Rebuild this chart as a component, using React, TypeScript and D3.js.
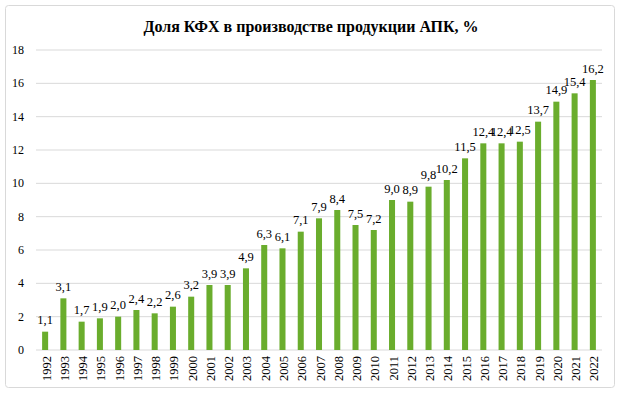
import React from "react";
import * as d3 from "d3";

const years = ["1992","1993","1994","1995","1996","1997","1998","1999","2000","2001","2002","2003","2004","2005","2006","2007","2008","2009","2010","2011","2012","2013","2014","2015","2016","2017","2018","2019","2020","2021","2022"];
const values = [1.1,3.1,1.7,1.9,2.0,2.4,2.2,2.6,3.2,3.9,3.9,4.9,6.3,6.1,7.1,7.9,8.4,7.5,7.2,9.0,8.9,9.8,10.2,11.5,12.4,12.4,12.5,13.7,14.9,15.4,16.2];
const yTicks = [0,2,4,6,8,10,12,14,16,18];
const title = "Доля КФХ в производстве продукции АПК, %";

export default function App() {
  const W = 620, H = 394;
  const left = 36, right = 602, top = 50, bottom = 350;
  const x = d3.scaleBand().domain(years).range([left, right]).paddingInner(0.67).paddingOuter(0.335);
  const y = d3.scaleLinear().domain([0, 18]).range([bottom, top]);
  const fmt = (v: number) => v.toFixed(1).replace(".", ",");
  const st = { fontFamily: "Liberation Serif, Times New Roman, serif" };
  return (
    <svg width={W} height={H} style={{ position: "absolute", left: 0, top: 0, background: "#fff" }}>
      <rect x={5.5} y={5.5} width={609} height={382} fill="#fff" stroke="#d9d9d9" strokeWidth={1} rx={3} />
      <text x={311} y={32} textAnchor="middle" fontSize={16} fontWeight="bold" fill="#000" style={st}>{title}</text>
      {yTicks.map(t => (
        <g key={t}>
          <line x1={left} x2={right} y1={y(t)} y2={y(t)} stroke="#d9d9d9" strokeWidth={1} />
          <text x={24} y={y(t) + 4} textAnchor="end" fontSize={12} fill="#000" style={st}>{t}</text>
        </g>
      ))}
      {years.map((yr, i) => {
        const bx = x(yr)!;
        const cx = bx + x.bandwidth() / 2;
        return (
          <g key={yr}>
            <rect x={bx} y={y(values[i])} width={x.bandwidth()} height={bottom - y(values[i])} fill="#6AAD2D" />
            <text x={cx} y={y(values[i]) - 7.5} textAnchor="middle" fontSize={12.5} fill="#000" style={st}>{fmt(values[i])}</text>
            <text transform={`translate(${cx + 5.5},${bottom + 6}) rotate(-90)`} textAnchor="end" fontSize={12.5} fill="#000" style={st}>{yr}</text>
          </g>
        );
      })}
    </svg>
  );
}
